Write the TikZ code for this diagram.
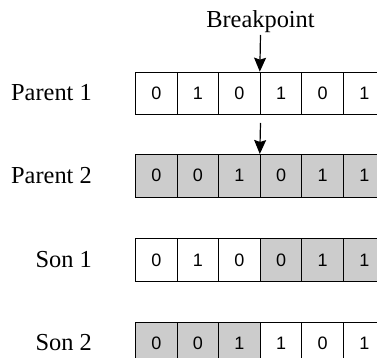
\documentclass[tikz,border=0pt]{standalone}
\usepackage{fontspec}
\setmainfont{Liberation Serif}
\newfontfamily\cellfont{Liberation Sans}
\usetikzlibrary{arrows.meta}
\definecolor{genegray}{HTML}{CCCCCC}
\tikzset{
  x=1pt, y=-1pt,
  gene/.style={draw=black, line width=1pt, minimum width=41.6pt, minimum height=42.6pt,
    inner sep=0pt, anchor=north west, font=\cellfont\fontsize{18}{18}\selectfont},
  lit/.style={gene, fill=white},
  shaded/.style={gene, fill=genegray},
  rowlabel/.style={anchor=east, font=\fontsize{24.4}{25}\selectfont, inner sep=0pt},
  cut/.style={line width=1.2pt, -{Stealth[length=14pt, width=12pt, inset=2pt]}}
}
\begin{document}
\begin{tikzpicture}
\useasboundingbox (0,0) rectangle (377,358);
\clip (0,0) rectangle (377,358);
% chromosomes: row name / top edge / bits / fill styles
\foreach \r/\top/\bits/\fills in {
  p1/71.7/{0,1,0,1,0,1}/{lit,lit,lit,lit,lit,lit},
  p2/154/{0,0,1,0,1,1}/{shaded,shaded,shaded,shaded,shaded,shaded},
  s1/238.3/{0,1,0,0,1,1}/{lit,lit,lit,shaded,shaded,shaded},
  s2/321.7/{0,0,1,1,0,1}/{shaded,shaded,shaded,lit,lit,lit}} {
  \foreach \b [count=\i] in \bits {
    \foreach \f [count=\j] in \fills {
      \ifnum\i=\j
        \node[\f] (\r c\i) at ({135+41.6*(\i-1)}, \top) {\b};
      \fi
    }
  }
}
\node[rowlabel] (lp1) at (92, 93) {Parent 1};
\node[rowlabel] (lp2) at (92, 176) {Parent 2};
\node[rowlabel] (ls1) at (92, 260) {Son 1};
\node[rowlabel] (ls2) at (92, 343) {Son 2};
% crossover point
\node[font=\fontsize{24.4}{25}\selectfont, inner sep=0pt] (bp) at (260.5, 22) {Breakpoint};
\draw[cut] (260.5, 35) -- (p1c4.north west);
\coordinate (cut2) at (260.5, 123);
\draw[cut] (cut2) -- (p2c4.north west);
\end{tikzpicture}
\end{document}
